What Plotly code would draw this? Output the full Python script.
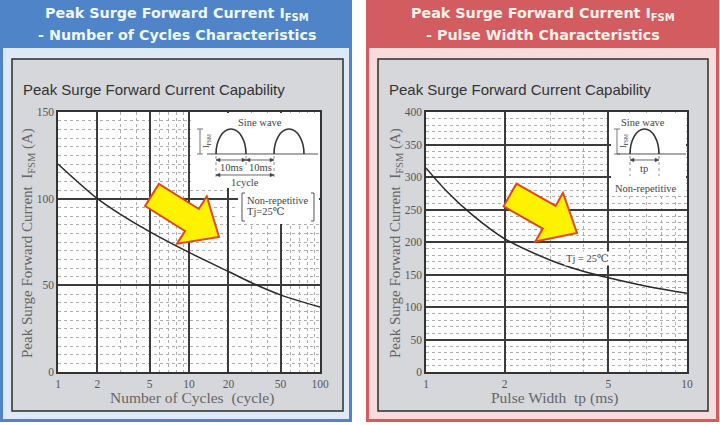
import math
import plotly.graph_objects as go

# number of cycles characteristic (left chart)
cycles = [1, 2, 3, 5, 10, 20, 30, 50, 100]
ifsm_cycles = [120, 100, 91, 81, 69, 58, 51.5, 44.5, 37.5]

# pulse width characteristic (right chart)
pulse_ms = [1, 1.2, 1.5, 2, 3, 4, 5, 7, 10]
ifsm_pulse = [314, 278, 242, 205, 172, 155, 145, 132, 121]

cyc_ticks = [1, 2, 5, 10, 20, 50, 100]
cyc_minor = [3, 4, 6, 7, 8, 9, 30, 40, 60, 70, 80, 90]
pw_ticks = [1, 2, 5, 10]
pw_minor = [3, 4, 6, 7, 8, 9]
cyc_yticks = [0, 50, 100, 150]
pw_yticks = [0, 50, 100, 150, 200, 250, 300, 350, 400]

W, H = 720, 425
SERIF = "Liberation Serif, DejaVu Serif, serif"
SANS = "Liberation Sans, Arial, sans-serif"
HEAD = "DejaVu Sans, Verdana, sans-serif"


def px(x):
    return x / W


def py(y):
    return 1 - y / H


def rect(x0, y0, x1, y1, fill, line=None, lw=0, layer="below"):
    return dict(type="rect", xref="paper", yref="paper",
                x0=px(x0), x1=px(x1), y0=py(y1), y1=py(y0),
                fillcolor=fill, layer=layer,
                line=dict(color=line or fill, width=lw))


def path(pts, close=False, color="#333", width=1, fill=None, dash=None):
    d = "M " + " L ".join(f"{px(x):.5f},{py(y):.5f}" for x, y in pts)
    if close:
        d += " Z"
    s = dict(type="path", xref="paper", yref="paper", path=d, layer="above",
             line=dict(color=color, width=width))
    if fill:
        s["fillcolor"] = fill
    if dash:
        s["line"]["dash"] = dash
    return s


def hump(x0, x1, base, top):
    # arch drawn as two quarter ellipses
    k = 0.552
    xm = (x0 + x1) / 2
    hw = (x1 - x0) / 2
    h = base - top
    pts = [(x0, base), (x0, base - k * h), (xm - k * hw, top), (xm, top),
           (xm + k * hw, top), (x1, base - k * h), (x1, base)]
    c = [f"{px(x):.5f},{py(y):.5f}" for x, y in pts]
    d = f"M {c[0]} C {c[1]} {c[2]} {c[3]} C {c[4]} {c[5]} {c[6]}"
    return dict(type="path", xref="paper", yref="paper", path=d, layer="above",
                line=dict(color="#333", width=1.6))


def big_arrow(tx, ty, hx, hy, w=13, hw=28, hl=32):
    dx, dy = hx - tx, hy - ty
    d = math.hypot(dx, dy)
    ux, uy = dx / d, dy / d
    nx, ny = -uy, ux
    bx, by = hx - ux * hl, hy - uy * hl
    pts = [(tx + nx * w, ty + ny * w), (bx + nx * w, by + ny * w),
           (bx + nx * hw, by + ny * hw), (hx, hy),
           (bx - nx * hw, by - ny * hw), (bx - nx * w, by - ny * w),
           (tx - nx * w, ty - ny * w)]
    return path(pts, close=True, color="#e2461c", width=2, fill="#fff200")


def dim_arrow(x0, x1, y):
    # double headed dimension line
    return [
        path([(x0, y), (x1, y)], color="#444", width=0.8),
        path([(x0, y), (x0 + 4, y - 1.8), (x0 + 4, y + 1.8)], close=True,
             color="#444", width=0.5, fill="#444"),
        path([(x1, y), (x1 - 4, y - 1.8), (x1 - 4, y + 1.8)], close=True,
             color="#444", width=0.5, fill="#444"),
    ]


def label(x, y, text, size=10, color="#444", family=SERIF, xanchor="center",
          angle=0, bg=None):
    a = dict(x=px(x), y=py(y), xref="paper", yref="paper", text=text,
             showarrow=False, xanchor=xanchor, yanchor="middle",
             textangle=angle, font=dict(family=family, size=size, color=color))
    if bg:
        a["bgcolor"] = bg
    return a


fig = go.Figure()

fig.add_trace(go.Scatter(x=cycles, y=ifsm_cycles, mode="lines",
                         line=dict(color="#2a2a2a", width=1.5, shape="spline"),
                         xaxis="x", yaxis="y", hoverinfo="skip"))
fig.add_trace(go.Scatter(x=pulse_ms, y=ifsm_pulse, mode="lines",
                         line=dict(color="#2a2a2a", width=1.5, shape="spline"),
                         xaxis="x2", yaxis="y2", hoverinfo="skip"))

tickfont = dict(family=SERIF, size=11.5, color="#555")
major = dict(showgrid=True, gridcolor="#3c3c3c", gridwidth=1.8,
             showline=True, linecolor="#333", linewidth=1.5, mirror=True,
             zeroline=False, ticks="", tickfont=tickfont, automargin=False,
             fixedrange=True)
minor_x = dict(showgrid=True, gridcolor="#aeaeae", griddash="dot", gridwidth=1)

fig.update_layout(
    width=W, height=H, margin=dict(l=0, r=0, t=0, b=0),
    paper_bgcolor="white", plot_bgcolor="rgba(0,0,0,0)", showlegend=False,
    xaxis=dict(type="log", range=[0, 2], domain=[px(58), px(320)],
               tickmode="array", tickvals=cyc_ticks,
               ticktext=[str(v) for v in cyc_ticks],
               minor=dict(tickvals=cyc_minor, **minor_x), anchor="y", **major),
    yaxis=dict(range=[0, 150], domain=[py(372), py(112)],
               tickmode="array", tickvals=cyc_yticks,
               minor=dict(dtick=5, tick0=0, **minor_x), anchor="x", **major),
    xaxis2=dict(type="log", range=[0, 1], domain=[px(426), px(687)],
                tickmode="array", tickvals=pw_ticks,
                ticktext=[str(v) for v in pw_ticks],
                minor=dict(tickvals=pw_minor, **minor_x), anchor="y2", **major),
    yaxis2=dict(range=[0, 400], domain=[py(372), py(112)],
                tickmode="array", tickvals=pw_yticks,
                minor=dict(dtick=10, tick0=0, **minor_x), anchor="x2", **major),
)

shapes = [
    # left panel
    rect(0, 0, 352, 422, "#4f84c8"),
    rect(3, 48, 349, 419, "#dde9f6"),
    rect(12, 59, 343, 411, "#d5d7db", line="#2e2e2e", lw=1.5),
    rect(58, 112, 320, 372, "white"),
    # right panel
    rect(366, 0, 719, 422, "#d35c60"),
    rect(369, 48, 716, 419, "#f8dcdc"),
    rect(378, 59, 708, 411, "#d5d7db", line="#2e2e2e", lw=1.5),
    rect(426, 112, 687, 372, "white"),
    # inset backgrounds
    rect(191, 113, 319, 188, "white", layer="above"),
    rect(238, 188, 319, 224, "white", layer="above"),
    rect(611, 113, 686, 196, "white", layer="above"),
]

# left inset: two half sine waves
shapes += [
    path([(207, 154), (318, 154)], color="#555", width=1),
    hump(216, 246, 154, 129),
    hump(274, 304, 154, 129),
    path([(200, 129), (200, 154)], color="#555", width=0.8),
    path([(197, 129), (203, 129)], color="#555", width=0.8),
    path([(197, 154), (203, 154)], color="#555", width=0.8),
    path([(216, 156), (216, 179)], color="#666", width=0.7, dash="dot"),
    path([(246, 156), (246, 166)], color="#666", width=0.7, dash="dot"),
    path([(274, 156), (274, 179)], color="#666", width=0.7, dash="dot"),
    path([(245, 193), (242, 193), (242, 221), (245, 221)], color="#555", width=1),
    path([(311, 193), (314, 193), (314, 221), (311, 221)], color="#555", width=1),
]
shapes += dim_arrow(216, 246, 160)
shapes += dim_arrow(246, 274, 160)
shapes += dim_arrow(216, 274, 175)
# right inset: single pulse
shapes += [
    path([(617, 154), (686, 154)], color="#555", width=1),
    hump(630, 659, 154, 129),
    path([(617, 129), (617, 154)], color="#555", width=0.8),
    path([(614, 129), (620, 129)], color="#555", width=0.8),
    path([(614, 154), (620, 154)], color="#555", width=0.8),
    path([(630, 156), (630, 176)], color="#666", width=0.7, dash="dot"),
    path([(659, 156), (659, 176)], color="#666", width=0.7, dash="dot"),
]
shapes += dim_arrow(630, 659, 160)
# yellow arrows
shapes += [
    big_arrow(152, 195, 219, 237),
    big_arrow(510, 195, 577, 233),
]

annotations = [
    # headers
    label(177, 14, "<b>Peak Surge Forward Current I<sub>FSM</sub></b>",
          size=14.3, color="#eef7ff", family=HEAD),
    label(177, 35, "<b>- Number of Cycles Characteristics</b>",
          size=14.3, color="#eef7ff", family=HEAD),
    label(543, 14, "<b>Peak Surge Forward Current I<sub>FSM</sub></b>",
          size=14.3, color="#fff2ea", family=HEAD),
    label(543, 35, "<b>- Pulse Width Characteristics</b>",
          size=14.3, color="#fff2ea", family=HEAD),
    # chart titles
    label(21, 89, "Peak Surge Forward Current Capability", size=15,
          color="#333", family=SANS, xanchor="left"),
    label(387, 89, "Peak Surge Forward Current Capability", size=15,
          color="#333", family=SANS, xanchor="left"),
    # axis titles
    label(192, 398, "Number of Cycles  (cycle)", size=15.5, color="#666"),
    label(554, 398, "Pulse Width  tp (ms)", size=15.5, color="#666"),
    label(28, 243, "Peak Surge Forward Current  I<sub>FSM</sub> (A)",
          size=15, color="#666", angle=-90),
    label(396, 243, "Peak Surge Forward Current  I<sub>FSM</sub> (A)",
          size=15, color="#666", angle=-90),
    # left inset
    label(260, 122, "Sine wave", size=10.5),
    label(207, 141, "I<sub>FSM</sub>", size=8, angle=-90),
    label(231, 167, "10ms", size=10.5),
    label(260, 167, "10ms", size=10.5),
    label(245, 182, "1cycle", size=10.5),
    label(278, 200, "Non-repetitive", size=10.5),
    label(245, 212, "Tj=25℃", size=10.5, xanchor="left"),
    # right inset
    label(643, 122, "Sine wave", size=10.5),
    label(624, 141, "I<sub>FSM</sub>", size=8, angle=-90),
    label(644, 168, "tp", size=10.5),
    label(646, 188, "Non-repetitive", size=10.5),
    label(587, 258, "Tj = 25℃", size=10.5, bg="white"),
]

fig.update_layout(shapes=shapes, annotations=annotations)

fig.write_html("out.html", config=dict(displayModeBar=False),
               post_script="document.body.style.margin='0';")
